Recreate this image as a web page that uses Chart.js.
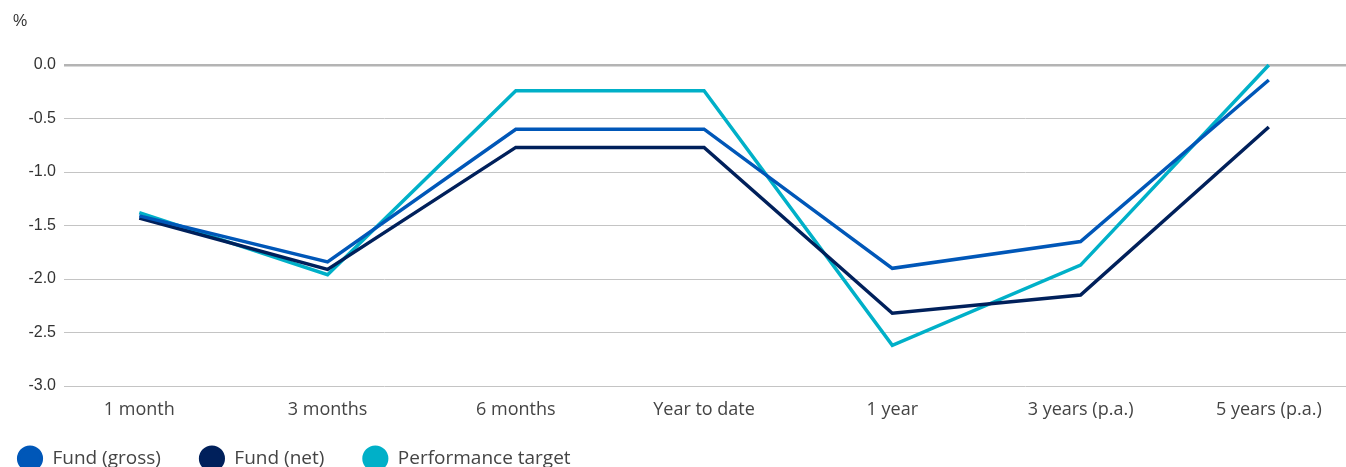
<!DOCTYPE html>
<html>
<head>
<meta charset="utf-8">
<script src="https://cdn.jsdelivr.net/npm/chart.js@4"></script>
<style>
  html, body { margin: 0; padding: 0; background: #fff; }
  #wrap { position: relative; width: 1346px; height: 467px; }
  #unit { position: absolute; left: 13px; top: 12px; font: 16px "Liberation Sans", Arial, sans-serif; color: #333; }
</style>
</head>
<body>
<div id="wrap">
  <div id="unit">%</div>
  <canvas id="perfChart" width="1346" height="467"></canvas>
</div>
<script>
// periods and returns (%)
const periods = ["1 month", "3 months", "6 months", "Year to date", "1 year", "3 years (p.a.)", "5 years (p.a.)"];
const fundGross = [-1.41, -1.84, -0.60, -0.60, -1.90, -1.65, -0.14];
const fundNet = [-1.43, -1.91, -0.77, -0.77, -2.32, -2.15, -0.58];
const target = [-1.38, -1.96, -0.24, -0.24, -2.62, -1.87, 0.00];

function pts(values) {
  return values.map((v, i) => ({ x: i, y: v }));
}

function line(label, values, color) {
  return {
    label: label,
    data: pts(values),
    borderColor: color,
    backgroundColor: color,
    borderWidth: 3.5,
    pointRadius: 0,
    tension: 0,
    clip: false
  };
}

Chart.defaults.font.family = "'Open Sans', Lato, sans-serif";
Chart.defaults.color = "#444";

// put the legend where it sits in the original (its padding also sets item gaps)
const legendShift = {
  id: "legendShift",
  beforeDraw: (chart) => {
    chart.legend.left = -21;
    chart.legend.top = 406;
  }
};

new Chart(document.getElementById("perfChart"), {
  type: "line",
  data: {
    datasets: [
      line("Fund (gross)", fundGross, "#0057b8"),
      line("Fund (net)", fundNet, "#00205b"),
      line("Performance target", target, "#00b0c8")
    ]
  },
  plugins: [legendShift],
  options: {
    responsive: false,
    animation: false,
    layout: { padding: { top: 65, right: 0, left: 0, bottom: 0 } },
    plugins: {
      tooltip: { enabled: false },
      legend: {
        position: "bottom",
        align: "start",
        maxHeight: 41,
        labels: {
          usePointStyle: true,
          pointStyle: "circle",
          boxWidth: 16,
          boxHeight: 16,
          padding: 43,
          color: "#444",
          font: { size: 19 },
          generateLabels: (chart) =>
            Chart.defaults.plugins.legend.labels.generateLabels(chart)
              .map((item) => ({ ...item, text: " " + item.text }))
        }
      }
    },
    scales: {
      x: {
        type: "linear",
        min: -0.4,
        max: 6.41,
        afterBuildTicks: (scale) => {
          scale.ticks = periods.map((p, i) => ({ value: i }));
        },
        afterFit: (scale) => { scale.height = 40; },
        ticks: {
          autoSkip: false,
          maxRotation: 0,
          padding: 5,
          font: { size: 18 },
          color: "#444",
          callback: (v) => periods[v]
        },
        grid: { display: false },
        border: { display: false }
      },
      y: {
        min: -3,
        max: 0,
        afterFit: (scale) => { scale.width = 64; },
        ticks: {
          stepSize: 0.5,
          padding: 8,
          font: { family: "'Liberation Sans', Arial, sans-serif", size: 16 },
          color: "#333",
          callback: (v) => v.toFixed(1)
        },
        grid: {
          drawTicks: false,
          color: (ctx) => ctx.tick && ctx.tick.value === 0 ? "#b4b4b4" : "#c4c4c4",
          lineWidth: (ctx) => ctx.tick && ctx.tick.value === 0 ? 2.5 : 1
        },
        border: { display: false }
      }
    }
  }
});
</script>
</body>
</html>
